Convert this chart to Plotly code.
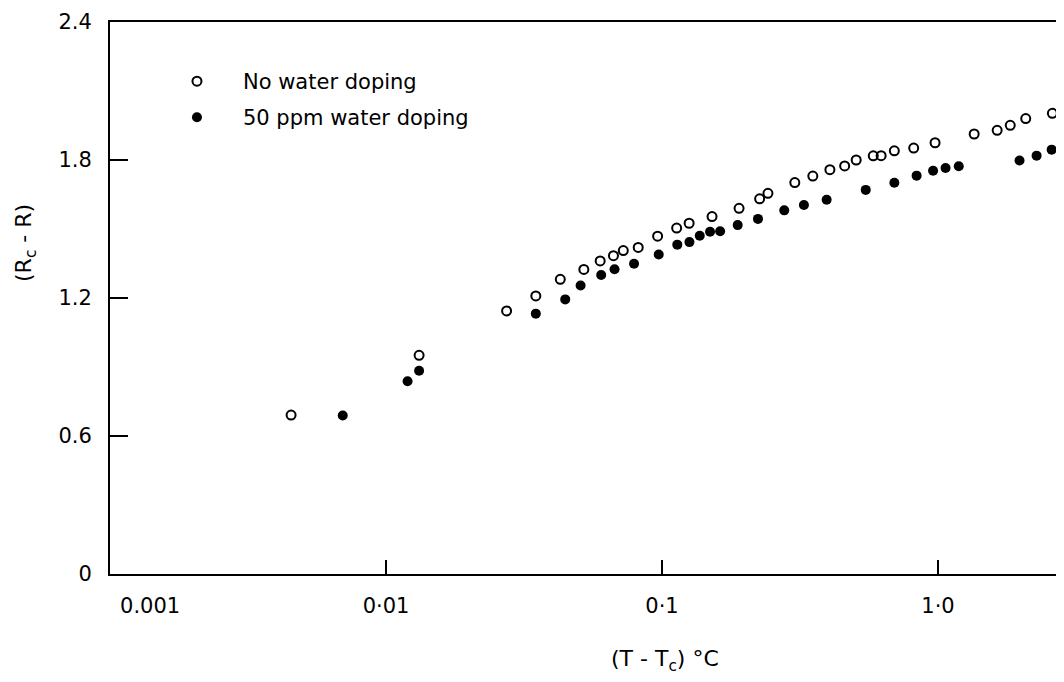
import plotly.graph_objects as go

# Values
x_no_doping = [0.00453, 0.01318, 0.02735, 0.0349, 0.0428, 0.0521, 0.0597, 0.0667, 0.0724, 0.0820,
               0.0964, 0.1130, 0.1254, 0.1518, 0.1902, 0.2258, 0.2420, 0.3028, 0.3519, 0.4058,
               0.4590, 0.5053, 0.5826, 0.6222, 0.6947, 0.8163, 0.9757, 1.352, 1.638, 1.827,
               2.079, 2.596]
y_no_doping = [0.691, 0.951, 1.144, 1.209, 1.281, 1.324, 1.361, 1.384, 1.406, 1.420,
               1.469, 1.504, 1.525, 1.554, 1.590, 1.631, 1.655, 1.702, 1.730, 1.758,
               1.774, 1.800, 1.818, 1.819, 1.840, 1.852, 1.875, 1.913, 1.929, 1.951,
               1.980, 2.003]

x_50ppm = [0.00697, 0.01197, 0.01318, 0.0349, 0.0446, 0.0507, 0.0602, 0.0673, 0.0792, 0.0973,
           0.1136, 0.1257, 0.1370, 0.1493, 0.1624, 0.1880, 0.2227, 0.2773, 0.3267, 0.3949,
           0.5472, 0.6947, 0.8366, 0.9597, 1.065, 1.189, 1.974, 2.276, 2.581]
y_50ppm = [0.689, 0.838, 0.884, 1.132, 1.194, 1.254, 1.300, 1.325, 1.349, 1.389,
           1.432, 1.443, 1.471, 1.488, 1.490, 1.517, 1.544, 1.581, 1.604, 1.627,
           1.670, 1.701, 1.732, 1.753, 1.765, 1.773, 1.798, 1.819, 1.845]

series_names = ["No water doping", "50 ppm water doping"]

x_tickvals = [0.001, 0.01, 0.1, 1.0]
x_ticktext = ["\u2007\u2007\u2007\u2007\u2007\u20070.001", "0·01", "0·1", "1·0"]
y_tickvals = [0, 0.6, 1.2, 1.8, 2.4]
y_ticktext = ["0", "0.6", "1.2", "1.8", "2.4"]

x_title = "(T - T<sub>c</sub>) °C"
y_title = "(R<sub>c</sub> - R)"

FONT = "DejaVu Sans"

fig = go.Figure()
fig.add_trace(go.Scatter(
    x=x_no_doping, y=y_no_doping, mode="markers", name=series_names[0],
    marker=dict(symbol="circle-open", size=9, color="black", line=dict(width=2, color="black")),
    legend="legend", cliponaxis=False,
))
fig.add_trace(go.Scatter(
    x=x_50ppm, y=y_50ppm, mode="markers", name=series_names[1],
    marker=dict(symbol="circle", size=10, color="black"),
    legend="legend2", cliponaxis=False,
))

fig.update_layout(
    width=1048, height=666,
    margin=dict(l=102, r=0, t=14, b=100),
    paper_bgcolor="white", plot_bgcolor="white",
    font=dict(family=FONT, color="black", size=21),
    legend=dict(x=0.0433, y=0.9293, xanchor="left", yanchor="top", bgcolor="rgba(0,0,0,0)",
                itemwidth=82, font=dict(size=21, family=FONT)),
    legend2=dict(x=0.0433, y=0.8641, xanchor="left", yanchor="top", bgcolor="rgba(0,0,0,0)",
                 itemwidth=82, font=dict(size=21, family=FONT)),
    showlegend=True,
)

fig.update_xaxes(
    type="log", range=[-3, 0.4275],
    showline=True, linecolor="black", linewidth=2, mirror=True,
    showgrid=False, zeroline=False,
    ticks="inside", ticklen=14, tickwidth=2, tickcolor="black",
    tickvals=x_tickvals, ticktext=x_ticktext,
    tickfont=dict(size=21, family=FONT), ticklabelstandoff=12,
)
fig.update_yaxes(
    range=[0, 2.4],
    showline=True, linecolor="black", linewidth=2, mirror=False,
    showgrid=False, zeroline=False,
    ticks="inside", ticklen=18, tickwidth=2, tickcolor="black",
    tickvals=y_tickvals, ticktext=y_ticktext,
    tickfont=dict(size=21, family=FONT), ticklabelstandoff=12,
)

fig.add_annotation(text=y_title, xref="paper", yref="paper", x=-0.0899, y=0.5996,
                   textangle=-90, showarrow=False, xanchor="center", yanchor="middle",
                   font=dict(size=22, family=FONT))
fig.add_annotation(text=x_title, xref="paper", yref="paper", x=0.5867, y=-0.1558,
                   showarrow=False, xanchor="center", yanchor="middle",
                   font=dict(size=22, family=FONT))

fig.write_html("out.html")
